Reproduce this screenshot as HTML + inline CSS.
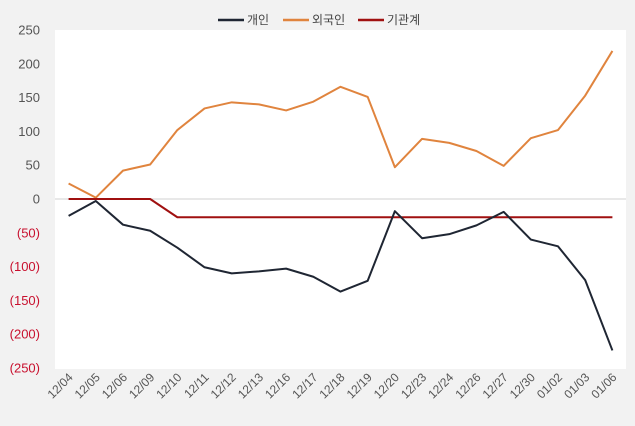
<!DOCTYPE html>
<html><head><meta charset="utf-8"><style>
body{margin:0;background:#f2f2f2;font-family:"Liberation Sans","Noto Sans CJK KR",sans-serif;}
svg{display:block}
</style></head><body>
<svg id="chart" width="635" height="426" xmlns="http://www.w3.org/2000/svg">
<rect x="0" y="0" width="635" height="426" fill="#f2f2f2"/>
<rect x="55" y="30" width="571" height="339" fill="#fff"/>
<g id="legend" font-size="12" fill="#444">
<g><line x1="218" y1="20" x2="244" y2="20" stroke="#1f2633" stroke-width="2.5"/><text x="247" y="24">개인</text></g>
<g><line x1="283" y1="20" x2="309" y2="20" stroke="#e0843e" stroke-width="2.5"/><text x="312" y="24">외국인</text></g>
<g><line x1="358" y1="20" x2="384" y2="20" stroke="#a01010" stroke-width="2.5"/><text x="387" y="24">기관계</text></g>
</g>
<g id="yaxis"></g>
<g id="xaxis"></g>
<g id="series"></g>
</svg>
<script>
const categories=["12/04","12/05","12/06","12/09","12/10","12/11","12/12","12/13","12/16","12/17","12/18","12/19","12/20","12/23","12/24","12/26","12/27","12/30","01/02","01/03","01/06"];
const individual=[-25,-3,-38,-47,-72,-101,-110,-107,-103,-115,-137,-121,-18,-58,-52,-39,-19,-60,-70,-120,-224];
const foreign=[23,2,42,51,102,134,143,140,131,144,166,151,47,89,83,71,49,90,102,153,219];
const institution=[0,0,0,0,-27,-27,-27,-27,-27,-27,-27,-27,-27,-27,-27,-27,-27,-27,-27,-27,-27];
const yTicks=[250,200,150,100,50,0,-50,-100,-150,-200,-250];
const NS="http://www.w3.org/2000/svg";
const L=55,R=626,T=30,B=368,ymin=-250,ymax=250;
const y=v=>T+(ymax-v)/(ymax-ymin)*(B-T);
const bw=(R-L)/categories.length;
const x=i=>L+bw*(i+0.5);
const yaxis=document.getElementById('yaxis'),xaxis=document.getElementById('xaxis'),series=document.getElementById('series');
yTicks.forEach(v=>{
 const t=document.createElementNS(NS,'text');
 
 
 t.setAttribute('x',40);t.setAttribute('y',y(v)+4.5);t.setAttribute('text-anchor','end');
 t.setAttribute('font-size','13');
 t.setAttribute('fill',v<0?'#c8102e':'#555');
 t.textContent=v<0?'('+(-v)+')':String(v);
 yaxis.appendChild(t);
});
const zl=document.createElementNS(NS,'line');


zl.setAttribute('x1',L);zl.setAttribute('x2',R);zl.setAttribute('y1',y(0));zl.setAttribute('y2',y(0));
zl.setAttribute('stroke','#d0d0d0');zl.setAttribute('stroke-width','1');
yaxis.appendChild(zl);
categories.forEach((c,i)=>{
 const t=document.createElementNS(NS,'text');
 
 
 const cx=x(i)+5,cy=378;
 t.setAttribute('x',cx);t.setAttribute('y',cy);t.setAttribute('text-anchor','end');
 t.setAttribute('font-size','12');t.setAttribute('fill','#555');
 t.setAttribute('transform','rotate(-45 '+cx+' '+cy+')');
 t.textContent=c;
 xaxis.appendChild(t);
});
function line(data,color,name){
 const p=document.createElementNS(NS,'polyline');
 
 
 p.setAttribute('points',data.map((v,i)=>x(i)+','+y(v)).join(' '));
 p.setAttribute('fill','none');p.setAttribute('stroke',color);p.setAttribute('stroke-width','2');
 p.setAttribute('stroke-linejoin','round');
 series.appendChild(p);
}
line(foreign,'#e0843e','foreign-line');
line(institution,'#a01010','institution-line');
line(individual,'#1f2633','individual-line');
</script>
</body></html>
